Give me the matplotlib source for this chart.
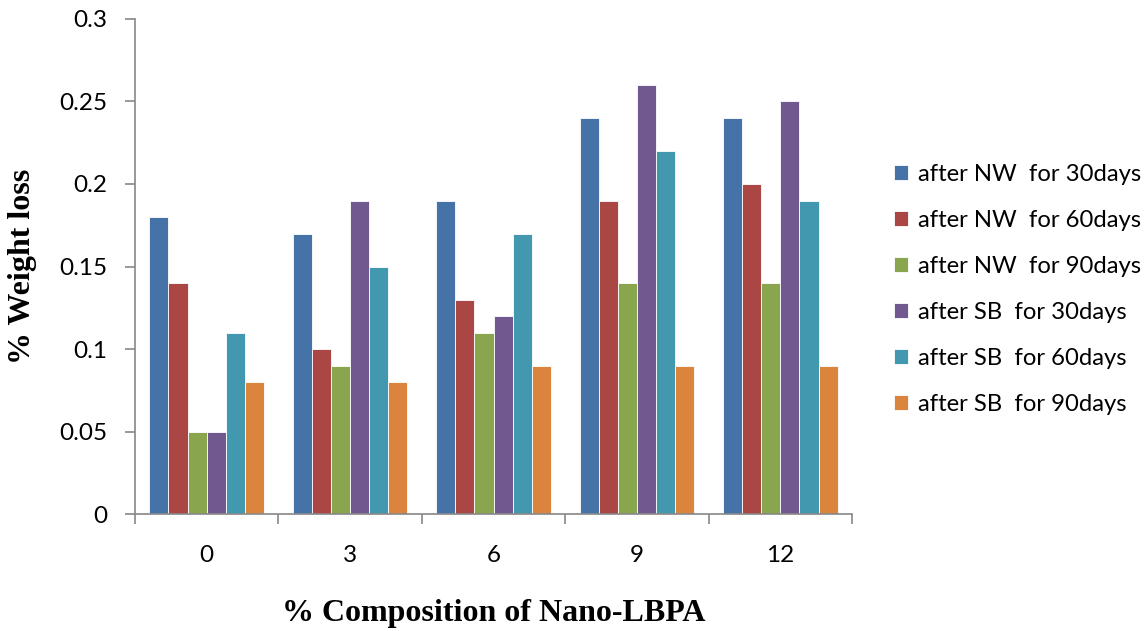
import numpy as np
import matplotlib.pyplot as plt

categories = ['0', '3', '6', '9', '12']
series = ['after NW  for 30days', 'after NW  for 60days', 'after NW  for 90days',
          'after SB  for 30days', 'after SB  for 60days', 'after SB  for 90days']
nw30 = [0.18, 0.17, 0.19, 0.24, 0.24]
nw60 = [0.14, 0.10, 0.13, 0.19, 0.20]
nw90 = [0.05, 0.09, 0.11, 0.14, 0.14]
sb30 = [0.05, 0.19, 0.12, 0.26, 0.25]
sb60 = [0.11, 0.15, 0.17, 0.22, 0.19]
sb90 = [0.08, 0.08, 0.09, 0.09, 0.09]
colors = ['#4572A7', '#AA4643', '#89A54E', '#71588F', '#4198AF', '#DB843D']

values = [nw30, nw60, nw90, sb30, sb60, sb90]

fig = plt.figure(figsize=(11.46, 6.31), dpi=100)
ax = fig.add_axes([0.1178, 0.1854, 0.6257, 0.7845])

x = np.arange(len(categories))
w = 0.8 / len(series)
for i, (vals, lab, c) in enumerate(zip(values, series, colors)):
    ax.bar(x - 0.4 + w * (i + 0.5), vals, width=w, color=c, label=lab,
           edgecolor='white', linewidth=0.6)

ax.set_xlim(-0.5, len(categories) - 0.5)
ax.set_ylim(0, 0.3)
ax.set_yticks(np.arange(0, 0.301, 0.05))
ax.set_yticklabels(['0', '0.05', '0.1', '0.15', '0.2', '0.25', '0.3'])

ax.set_xticks(np.arange(-0.5, len(categories), 1.0))
ax.set_xticklabels([])
ax.set_xticks(x, minor=True)
ax.set_xticklabels(categories, minor=True)
ax.tick_params(axis='x', which='minor', length=0, pad=22)
ax.tick_params(axis='x', which='major', length=7, color='#888888', width=1.2)
ax.tick_params(axis='y', length=7, color='#888888', width=1.2, pad=13)

for lbl in ax.get_xticklabels(minor=True) + ax.get_yticklabels():
    lbl.set_fontfamily('Lato')
    lbl.set_fontsize(17.5)

for s in ['top', 'right']:
    ax.spines[s].set_visible(False)
for s in ['left', 'bottom']:
    ax.spines[s].set_color('#888888')
    ax.spines[s].set_linewidth(1.2)

ax.set_xlabel('% Composition of Nano-LBPA', fontfamily='Liberation Serif',
              fontweight='bold', fontsize=23, labelpad=24)
ax.set_ylabel('% Weight loss', fontfamily='Liberation Serif',
              fontweight='bold', fontsize=23, labelpad=16)

ax.legend(loc='center left', bbox_to_anchor=(1.045, 0.4535), frameon=False,
          prop={'family': 'Lato', 'size': 17.2}, handlelength=0.6,
          handleheight=0.6, handletextpad=0.4, labelspacing=1.05,
          borderaxespad=0)

fig.savefig('out.png', dpi=100)
